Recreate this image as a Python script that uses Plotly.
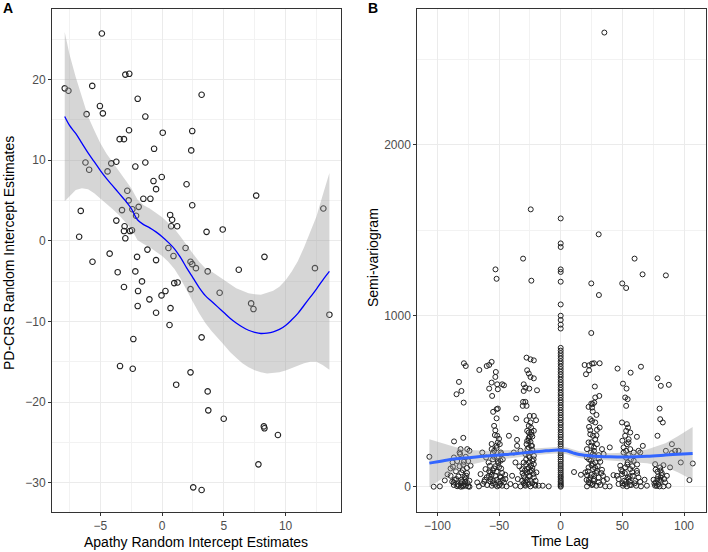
import numpy as np
import plotly.graph_objects as go

# ---- Panel A: apathy vs PD-CRS random intercepts ----
apathy_pdcrs = [
    (-7.89, 18.9), (-7.59, 18.6), (-4.88, 25.7), (-5.66, 19.2), (-2.98, 20.6), (-2.66, 20.7),
    (-5.04, 16.7), (-4.80, 15.8), (-6.12, 15.7), (-1.98, 17.6), (3.20, 18.1), (-1.36, 15.4),
    (-2.68, 13.7), (-3.44, 12.6), (-3.09, 12.6), (0.05, 13.4), (2.44, 13.6), (-0.65, 11.4),
    (2.36, 11.2), (-6.21, 9.7), (-5.91, 8.8), (-4.42, 8.6), (-4.12, 9.6), (-3.71, 9.8),
    (-2.17, 9.2), (-1.36, 9.7), (-0.70, 7.4), (-0.03, 7.9), (-0.49, 6.4), (1.98, 7.0),
    (-2.82, 6.2), (-2.71, 5.0), (-1.52, 5.2), (-0.95, 5.2), (7.62, 5.6), (-6.59, 3.7),
    (-3.25, 3.8), (-2.41, 3.9), (-1.90, 4.2), (2.44, 4.4), (13.06, 4.0), (-2.11, 3.1),
    (0.65, 3.2), (0.81, 2.6), (-3.71, 2.5), (-3.04, 1.8), (0.73, 1.8), (1.22, 1.8),
    (-3.09, 1.2), (-2.60, 1.2), (-2.44, 1.3), (3.60, 1.1), (4.91, 1.4), (-6.72, 0.5),
    (-2.98, 0.3), (-1.19, -1.1), (0.51, -0.9), (1.90, -0.9), (-0.49, -2.4), (0.92, -1.9),
    (-4.25, -1.6), (-2.03, -2.0), (-5.64, -2.6), (2.30, -2.6), (2.44, -2.9), (2.74, -3.4),
    (3.69, -3.8), (6.21, -3.6), (8.29, -2.0), (12.38, -3.4), (-3.60, -3.9), (-2.17, -3.8),
    (-3.09, -5.74), (-1.63, -5.04), (-1.95, -6.24), (-1.98, -8.10), (-1.03, -7.27),
    (-0.49, -8.93), (-0.05, -6.78), (0.27, -6.24), (0.68, -8.35), (0.60, -10.45),
    (0.98, -5.25), (1.25, -5.17), (2.30, -6.0), (4.66, -6.45), (7.21, -7.77), (7.40, -8.47),
    (13.55, -9.17), (3.20, -11.98), (-2.33, -12.19), (-3.41, -15.54), (-2.38, -15.87),
    (2.30, -16.32), (1.14, -17.85), (3.69, -18.68), (3.74, -21.03), (4.99, -22.07),
    (8.24, -23.02), (8.29, -23.26), (9.38, -24.09), (7.80, -27.73), (2.52, -30.58), (3.20, -30.91),
]

smooth_a_x = [-7.89, -7.5, -7, -6.5, -6, -5.5, -5, -4.5, -4, -3.5, -3, -2.5, -2, -1.5, -1, -0.5,
              0, 0.5, 1, 1.5, 2, 2.5, 3, 3.5, 4, 4.5, 5, 5.5, 6, 6.5, 7, 7.5, 8, 8.5, 9, 9.5,
              10, 10.5, 11, 11.5, 12, 12.5, 13, 13.55]
smooth_a_y = [15.4, 14.3, 13.3, 12.1, 10.9, 9.8, 8.7, 7.7, 6.8, 5.9, 5.0, 4.0, 2.6, 2.0, 1.6, 1.1,
              0.5, -0.2, -1.0, -2.1, -3.4, -4.6, -5.8, -6.8, -7.5, -8.2, -8.9, -9.6, -10.2, -10.7,
              -11.1, -11.35, -11.5, -11.45, -11.3, -11.0, -10.5, -9.8, -9.0, -8.0, -7.0, -6.0, -4.9, -3.8]
smooth_a_se = [10.5, 8.8, 7.0, 5.6, 4.5, 3.9, 3.4, 3.1, 2.9, 2.7, 2.6, 2.5, 2.5, 2.4, 2.4, 2.4,
               2.4, 2.4, 2.5, 2.6, 2.8, 3.0, 3.2, 3.4, 3.7, 3.9, 4.0, 4.2, 4.3, 4.5, 4.6, 4.7,
               4.8, 5.0, 5.1, 5.3, 5.6, 6.0, 6.5, 7.2, 8.0, 9.0, 10.5, 12.2]

# ---- Panel B: semi-variogram vs time lag ----
upper_points = [
    (35.4, 2656), (-24.3, 1622), (0, 1569), (30.8, 1476), (0, 1423), (0, 1402), (-30.5, 1334),
    (59.9, 1334), (-52.9, 1271), (0, 1271), (0, 1256), (66.4, 1242), (85.3, 1236), (-52, 1216),
    (-23.8, 1205), (0, 1199), (24.8, 1189), (49.9, 1189), (53.1, 1162), (31, 1121), (24.8, 899),
]
lag_zero = [0, 6, 14, 22, 31, 40, 52, 61, 73, 84, 97, 108, 121, 133, 147, 158, 172, 184, 197, 210,
            222, 236, 249, 263, 276, 291, 304, 318, 333, 347, 362, 375, 391, 404, 419, 433, 448,
            463, 477, 492, 506, 521, 536, 550, 566, 581, 596, 611, 626, 642, 657, 672, 688, 703,
            719, 734, 750, 765, 781, 796, 812, 925, 948, 975, 1000, 1066]
cluster_far_left = [(-106.5, 175), (-103, 0), (-94, 37), (-98, 2)]
cluster_m78 = [
    (-78.5, 722), (-77, 706), (-82.5, 613), (-80.5, 560), (-84.5, 541), (-78.7, 492), (-86.5, 265),
    (-79, 286), (-81.2, 220), (-75.8, 220), (-74, 210), (-86.6, 171), (-87.7, 142), (-81.6, 191),
    (-78.5, 146), (-73.1, 123), (-79.4, 97), (-89.3, 64), (-84.7, 45), (-86.7, 10), (-82.6, 6),
    (-79.4, 2), (-76.9, 6), (-75, 2), (-77.5, 29), (-83.6, 14), (-80.6, 41), (-76.5, 64),
    (-80.6, 84), (-86.7, 25), (-91.8, 72), (-89.3, 107), (-87.4, 117), (-74, 0), (-75.5, 21),
    (-78, 15), (-81, 0), (-84, 3), (-77, 48), (-82, 120), (-75, 150),
    (-80, 30), (-78, 55), (-76, 80), (-83, 60), (-85, 90), (-79, 130), (-77, 175), (-82, 200),
    (-86, 40), (-74, 35), (-81, 20), (-79, 8), (-76, 110), (-84, 150), (-88, 30),
]
cluster_m52 = [
    (-58, 712), (-56, 730), (-66, 683), (-60, 706), (-52.6, 671), (-53, 642), (-56, 609),
    (-51.5, 599), (-58, 574), (-51, 570), (-47.5, 599), (-46, 593), (-55.6, 531), (-54.8, 438),
    (-52, 453), (-51, 457), (-54, 356), (-53.4, 302), (-51.5, 298), (-42, 298), (-51, 259),
    (-49.4, 249), (-56, 220), (-52, 226), (-48.5, 200), (-63.6, 200), (-60.5, 171), (-55, 197),
    (-51.5, 171), (-58.5, 142), (-54, 107), (-48.3, 107), (-61, 103), (-65, 74), (-58.2, 64),
    (-53, 64), (-48.8, 54), (-44.8, 45), (-67.7, 25), (-63, 16), (-59.7, 10), (-55.9, 6),
    (-51.5, 2), (-47.5, 6), (-43.9, 2), (-66.3, 2), (-61.5, 41), (-54.8, 35), (-50.2, 29),
    (-46, 25), (-57, 84), (-52, 88), (-47.5, 80), (-57.4, 123), (-50.7, 138), (-54, 175),
    (-48.8, 152), (-53, 12), (-49, 18), (-57, 30), (-60, 55), (-45, 70), (-55, 95), (-50, 115),
    (-52, 400), (-53, 330), (-50, 280), (-56, 250), (-47, 160),
    (-55, 20), (-52, 40), (-49, 60), (-56, 70), (-53, 120), (-51, 150), (-55, 160), (-48, 190),
    (-58, 90), (-62, 30), (-50, 8), (-47, 40), (-54, 210), (-52, 240), (-57, 45),
]
cluster_m25 = [
    (-27.7, 755), (-24.5, 745), (-21.8, 739), (-27.2, 681), (-25.9, 662), (-24.5, 642),
    (-21.8, 634), (-30, 599), (-28.6, 580), (-25.5, 574), (-30, 560), (-19.2, 564), (-30.5, 496),
    (-28.6, 496), (-30.8, 473), (-27.7, 473), (-36.1, 399), (-25.1, 414), (-21.8, 414),
    (-27.7, 389), (-20, 389), (-25.9, 356), (-27.2, 327), (-23.8, 321), (-21.8, 327), (-25.1, 292),
    (-23, 294), (-35.4, 274), (-27.2, 268), (-24.5, 263), (-35.4, 239), (-25.9, 230), (-23.3, 239),
    (-32.6, 210), (-38, 200), (-28.6, 191), (-24.5, 200), (-21.8, 181), (-36.7, 142), (-33.5, 119),
    (-30, 142), (-25.9, 142), (-21.8, 132), (-31.3, 103), (-27.2, 103), (-23.3, 93), (-39.4, 64),
    (-34.8, 45), (-30, 64), (-25.9, 64), (-21.8, 54), (-40.8, 16), (-36.7, 6), (-32.6, 2),
    (-28.6, 6), (-24.5, 2), (-20.5, 6), (-17.9, 6), (-14.6, 6), (-9.7, 2), (-28.6, 29),
    (-24.5, 35), (-27.2, 84), (-25.1, 171), (-27.7, 249), (-25.9, 317), (-24.5, 376), (-31.3, 35),
    (-20.4, 35), (-19.7, 84), (-26, 15), (-23, 20), (-29, 50), (-22, 75), (-26, 110), (-24, 125),
    (-28, 160), (-23, 215), (-26, 285), (-24, 345), (-29, 12), (-31, 80),
    (-27, 40), (-25, 60), (-23, 110), (-28, 130), (-26, 180), (-24, 240), (-22, 160), (-27, 220),
    (-30, 20), (-21, 12), (-25, 90), (-29, 95), (-23, 150), (-26, 270), (-24, 305),
]
cluster_p15 = [(10.8, 86), (16.4, 70), (20, 84)]
cluster_p25 = [
    (19.4, 712), (23, 710), (25.4, 720), (27, 722), (31.6, 722), (20.5, 658), (23, 681),
    (27.7, 586), (31.3, 531), (28, 522), (24.8, 486), (25.9, 483), (27.2, 492), (22.6, 467),
    (25.4, 463), (24, 395), (25.4, 385), (28, 376), (31.6, 346), (29.4, 333), (24, 307),
    (26.2, 298), (28, 278), (22.6, 259), (24.8, 239), (29.4, 249), (33.5, 220), (39.8, 230),
    (21.3, 220), (24.6, 200), (27.2, 181), (30.8, 185), (34.8, 191), (21.3, 171), (24.6, 152),
    (28, 142), (32.1, 146), (22.6, 113), (26.2, 103), (29.4, 93), (33.5, 99), (21.3, 68), (24, 54),
    (27.2, 64), (30.8, 54), (34.3, 64), (22.6, 25), (25.4, 10), (28.9, 6), (32.1, 10), (36.1, 2),
    (39.7, 2), (21.3, 2), (26.7, 35), (30.8, 25), (34.8, 35), (42.8, 68), (37.5, 45),
    (26, 15), (23, 40), (29, 80), (25, 125), (31, 165), (27, 210), (23, 350), (29, 420), (26, 440),
    (24, 20), (27, 45), (25, 70), (22, 90), (28, 110), (26, 135), (23, 160), (30, 120), (27, 230),
    (25, 260), (29, 300), (21, 40), (33, 80), (26, 190), (24, 330),
]
cluster_p52 = [
    (46.1, 691), (56.7, 667), (65.1, 702), (50.5, 603), (53.4, 574), (52.3, 522), (54.3, 512),
    (53.1, 473), (49.7, 376), (53.7, 366), (54.6, 346), (53.1, 327), (56.4, 317), (52.3, 298),
    (55.1, 278), (50, 269), (61.8, 292), (53.7, 249), (56.4, 220), (63.1, 210), (66.6, 239),
    (51, 200), (59.2, 200), (64.5, 200), (48.3, 123), (52.3, 113), (56.4, 103), (61.8, 93),
    (54.3, 142), (59.2, 152), (45.6, 64), (49.7, 74), (54.3, 54), (58.5, 64), (63.1, 54), (68, 41),
    (46.9, 16), (50.5, 6), (53.7, 2), (57.2, 10), (61.2, 6), (65.1, 2), (69.9, 6), (51.5, 35),
    (55.9, 29), (60.5, 35), (64.5, 29), (52, 15), (55, 45), (50, 90), (58, 120), (53, 170),
    (55, 185), (62, 80),
    (50, 20), (53, 30), (56, 60), (52, 80), (49, 100), (54, 130), (57, 160), (51, 230), (55, 260),
    (60, 20), (47, 45), (58, 85), (53, 210), (62, 130), (56, 10),
]
cluster_p78 = [
    (78.5, 634), (81.2, 590), (87.7, 596), (80.2, 457), (80.7, 395), (82.8, 376), (78.5, 298),
    (76.6, 132), (80.7, 113), (83.3, 126), (88.7, 113), (78.5, 88), (82, 68), (86.1, 64),
    (75.3, 41), (78.5, 45), (81.2, 35), (84.7, 25), (76.6, 6), (80.2, 2), (83.3, 2), (87.4, 6),
    (90.2, 197), (95.6, 210), (85.3, 210), (92.8, 210), (90.2, 249), (97.4, 142), (104.4, 39),
    (107.1, 136), (79, 15), (81, 55), (77, 100),
    (77, 25), (80, 40), (82, 80), (79, 60), (76, 18), (84, 45), (78, 5), (81, 95),
]

smooth_b_x = [-106.5, -95, -85, -75, -60, -45, -30, -15, -5, 0, 5, 10, 15, 25, 40, 55, 70, 85, 95, 107]
smooth_b_y = [138, 152, 163, 170, 180, 188, 198, 208, 214, 214, 210, 198, 188, 180, 175, 174, 178,
              185, 190, 195]
smooth_b_se = [140, 100, 68, 45, 30, 25, 22, 20, 20, 20, 20, 20, 20, 20, 21, 26, 40, 70, 105, 155]

fig = go.Figure()

# panel A
pa_x, pa_y = zip(*apathy_pdcrs)
fig.add_trace(go.Scatter(x=pa_x, y=pa_y, mode="markers", xaxis="x", yaxis="y",
                         marker=dict(symbol="circle-open", size=5.5, color="#222222",
                                     line=dict(width=1.1))))
sx = np.array(smooth_a_x)
sy = np.array(smooth_a_y)
se = np.array(smooth_a_se)
fig.add_trace(go.Scatter(x=np.concatenate([sx, sx[::-1]]),
                         y=np.concatenate([sy + se, (sy - se)[::-1]]),
                         fill="toself", fillcolor="rgba(153,153,153,0.4)", line=dict(width=0),
                         mode="lines", xaxis="x", yaxis="y", hoverinfo="skip"))
fig.add_trace(go.Scatter(x=sx, y=sy, mode="lines", xaxis="x", yaxis="y",
                         line=dict(color="#0000FF", width=1.3, shape="spline")))

# panel B
pts_b = (upper_points + [(0, v) for v in lag_zero] + cluster_far_left + cluster_m78 + cluster_m52
         + cluster_m25 + cluster_p15 + cluster_p25 + cluster_p52 + cluster_p78)
pb_x, pb_y = zip(*pts_b)
fig.add_trace(go.Scatter(x=pb_x, y=pb_y, mode="markers", xaxis="x2", yaxis="y2",
                         marker=dict(symbol="circle-open", size=5, color="#222222",
                                     line=dict(width=1))))
bx = np.array(smooth_b_x)
by = np.array(smooth_b_y)
bse = np.array(smooth_b_se)
fig.add_trace(go.Scatter(x=np.concatenate([bx, bx[::-1]]),
                         y=np.concatenate([by + bse, (by - bse)[::-1]]),
                         fill="toself", fillcolor="rgba(153,153,153,0.4)", line=dict(width=0),
                         mode="lines", xaxis="x2", yaxis="y2", hoverinfo="skip"))
fig.add_trace(go.Scatter(x=bx, y=by, mode="lines", xaxis="x2", yaxis="y2",
                         line=dict(color="#3366FF", width=3, shape="spline")))

axis_style = dict(showgrid=True, gridcolor="#EBEBEB", gridwidth=1.1, zeroline=False,
                  showline=True, mirror=True, linecolor="#333333", linewidth=1,
                  ticks="outside", ticklen=3, tickcolor="#333333",
                  tickfont=dict(size=12, color="#4D4D4D"))

W, H = 708, 552
fig.update_layout(
    width=W, height=H, autosize=False, showlegend=False,
    paper_bgcolor="white", plot_bgcolor="white",
    margin=dict(l=0, r=0, t=0, b=0),
    font=dict(family="Liberation Sans, Arial, sans-serif", color="#000000"),
    xaxis=dict(domain=[52 / W, 341 / W], range=[-8.92, 14.49], anchor="y",
               tickvals=[-5, 0, 5, 10], minor=dict(dtick=2.5, tick0=0, showgrid=True,
                                                   gridcolor="#F2F2F2", ticks=""),
               **axis_style),
    yaxis=dict(domain=[1 - 511.7 / H, 1 - 9.3 / H], range=[-33.6, 28.7], anchor="x",
               tickvals=[-30, -20, -10, 0, 10, 20], minor=dict(dtick=5, tick0=0, showgrid=True,
                                                              gridcolor="#F2F2F2", ticks=""),
               **axis_style),
    xaxis2=dict(domain=[417.3 / W, 705.7 / W], range=[-116.3, 117.6], anchor="y2",
                tickvals=[-100, -50, 0, 50, 100], minor=dict(dtick=25, tick0=0, showgrid=True,
                                                             gridcolor="#F2F2F2", ticks=""),
                **axis_style),
    yaxis2=dict(domain=[1 - 511.7 / H, 1 - 9.3 / H], range=[-146, 2792], anchor="x2",
                tickvals=[0, 1000, 2000], minor=dict(dtick=500, tick0=0, showgrid=True,
                                                     gridcolor="#F2F2F2", ticks=""),
                **axis_style),
)

ann = [
    dict(text="Apathy Random Intercept Estimates", x=196 / W, y=1 - 542 / H, size=14, angle=0),
    dict(text="Time Lag", x=560 / W, y=1 - 541 / H, size=14, angle=0),
    dict(text="PD-CRS Random Intercept Estimates", x=9 / W, y=1 - 253 / H, size=14, angle=-90),
    dict(text="Semi-variogram", x=373 / W, y=1 - 258 / H, size=14, angle=-90),
    dict(text="<b>A</b>", x=7.5 / W, y=1 - 8 / H, size=14, angle=0),
    dict(text="<b>B</b>", x=373 / W, y=1 - 8 / H, size=14, angle=0),
]
for a in ann:
    fig.add_annotation(text=a["text"], x=a["x"], y=a["y"], xref="paper", yref="paper",
                       xanchor="center", yanchor="middle", showarrow=False,
                       textangle=a["angle"], font=dict(size=a["size"], color="#000000"))

# drop the default body margin so the 708x552 figure fills the window exactly
fig.write_html("out.html", config={"displayModeBar": False},
               post_script="document.body.style.margin='0';document.body.style.overflow='hidden';")
